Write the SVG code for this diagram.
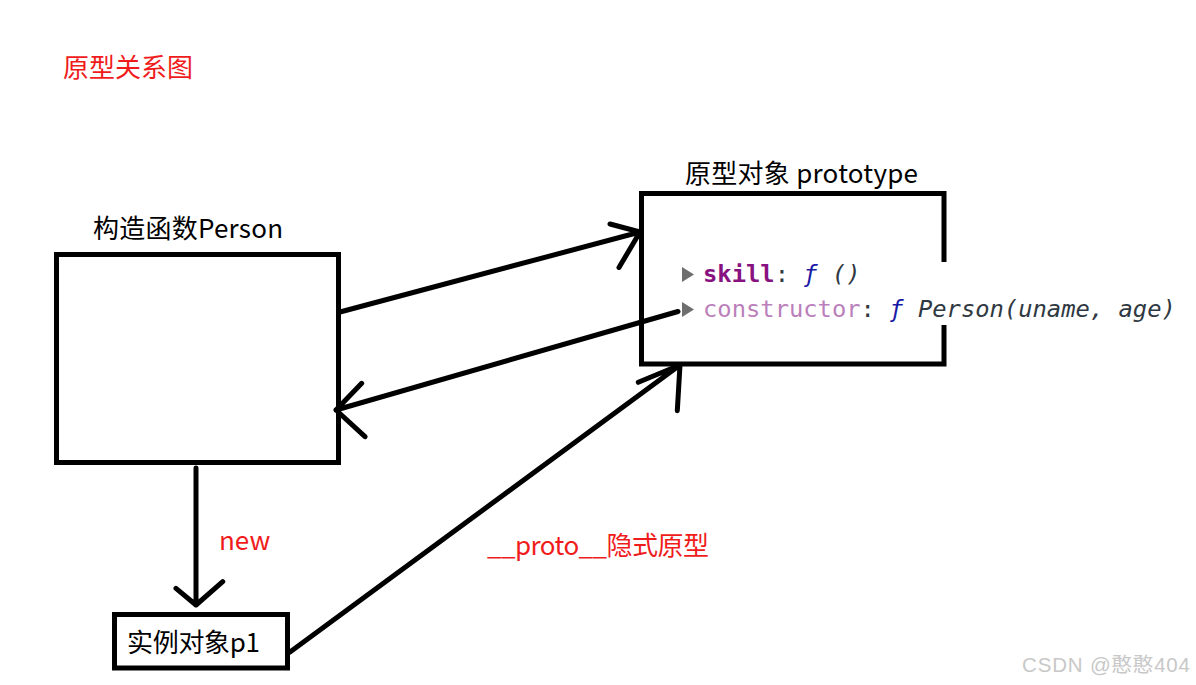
<svg xmlns="http://www.w3.org/2000/svg" width="1196" height="685" viewBox="0 0 1196 685">
<style>
.box{fill:none;stroke:#000;stroke-width:5}
.edge{fill:none;stroke:#000;stroke-width:5;stroke-linecap:round;stroke-linejoin:round}
.lbl{font-family:"Noto Sans CJK SC","Microsoft YaHei",sans-serif;font-size:26px;fill:#000}
.red{fill:#f01c1c}
.mono{font-family:"DejaVu Sans Mono","Liberation Mono",monospace;font-size:23.8px}
.tri{fill:#6e6e6e}
</style>
<rect width="1196" height="685" fill="#fff"/>
<text class="lbl red" x="63" y="77" textLength="130">原型关系图</text>

<g id="person">
<rect class="box" x="56.5" y="254.5" width="282" height="208"/>
<text class="lbl" x="93" y="238" textLength="190">构造函数Person</text>
</g>

<g id="prototype">
<path class="box" d="M944,262 V193.5 H641.5 V364 H944 V325"/>
<text class="lbl" x="685" y="183" textLength="233">原型对象 prototype</text>
<polygon class="tri" points="682,267 694,274.5 682,282"/>
<polygon class="tri" points="682,302 694,309.5 682,317"/>
<text class="mono" x="703" y="282"><tspan fill="#881280" font-weight="bold">skill</tspan><tspan fill="#303942">: </tspan><tspan fill="#1a1aa6" font-style="italic">ƒ</tspan><tspan fill="#303942" font-style="italic"> ()</tspan></text>
<text class="mono" x="703" y="317"><tspan fill="#bb7fbb">constructor</tspan><tspan fill="#303942">: </tspan><tspan fill="#1a1aa6" font-style="italic">ƒ</tspan><tspan fill="#303942" font-style="italic"> Person(uname, age)</tspan></text>
</g>

<g id="p1">
<rect class="box" x="114.5" y="614.5" width="173" height="53.5"/>
<text class="lbl" x="127" y="652" textLength="133">实例对象p1</text>
</g>

<g id="connectors">
<path class="edge" d="M340,312 L640,232 M610,224 L640,232 L619,267.5"/>
<path class="edge" d="M678,311.5 L336,410 M361.7,383.3 L336,410 L365,436.7"/>
<path class="edge" d="M290,652 L680,365 M638.3,382.3 L680,365 L677.3,410.7"/>
<path class="edge" d="M196,468 L196,605 M176,588.3 L196,605 L222.7,581.7"/>
<text class="lbl red" x="219" y="550">new</text>
<text class="lbl red" x="487" y="555" textLength="222">__proto__隐式原型</text>
</g>

<text x="1022" y="672" font-family="Liberation Sans,'Noto Sans CJK SC',sans-serif" font-size="20.5" fill="#c8c8c8" textLength="168">CSDN @憨憨404</text>
</svg>
